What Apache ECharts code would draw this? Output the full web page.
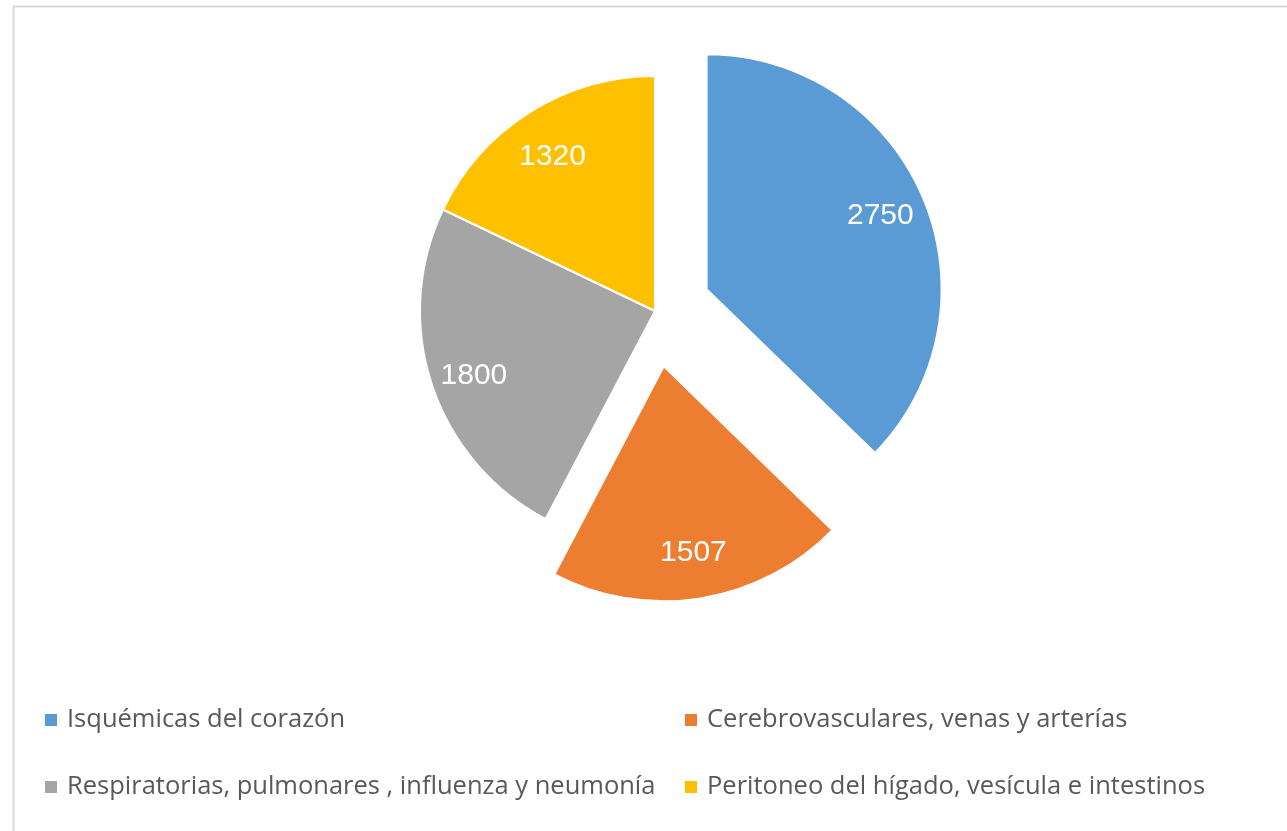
<!DOCTYPE html>
<html>
<head>
<meta charset="utf-8">
<script src="https://cdn.jsdelivr.net/npm/echarts@6/dist/echarts.min.js"></script>
<style>
html,body{margin:0;padding:0;background:#fff;}
#chart{width:1287px;height:831px;}
</style>
</head>
<body>
<div id="chart"></div>
<script>
const categories = [
  'Isquémicas del corazón',
  'Cerebrovasculares, venas y arterías',
  'Respiratorias, pulmonares , influenza y neumonía',
  'Peritoneo del hígado, vesícula e intestinos'
];
const values = [2750, 1507, 1800, 1320];
const colors = ['#5B9BD5', '#ED7D31', '#A5A5A5', '#FFC000'];
const exploded = [true, true, false, false];

const chart = echarts.init(document.getElementById('chart'), null, {renderer: 'canvas'});

const CENTER = [655, 311];
const R = 235;
const OFFSET = 56;

const mainData = categories.map((n, i) => ({
  name: n, value: values[i], selected: exploded[i],
  itemStyle: {color: colors[i]}
}));
const labelData = categories.map((n, i) => ({
  name: n, value: values[i], selected: exploded[i]
}));

const legendText = {fontFamily: '"Open Sans", sans-serif', fontSize: 25.5, color: '#595959', lineHeight: 28, padding: [0, 0, 0, 5]};

chart.setOption({
  animation: false,
  backgroundColor: '#fff',
  color: colors,
  graphic: [{
    type: 'rect', silent: true, z: -1,
    shape: {x: 13.5, y: 6.5, width: 1300, height: 840},
    style: {fill: 'none', stroke: '#d9d9d9', lineWidth: 2}
  }],
  legend: [
    {
      data: [categories[0], categories[2]],
      orient: 'vertical', left: 40, top: 701,
      icon: 'rect', itemWidth: 12, itemHeight: 12, itemGap: 39,
      itemStyle: {borderWidth: 0},
      textStyle: legendText, selectedMode: false
    },
    {
      data: [categories[1], categories[3]],
      orient: 'vertical', left: 680, top: 701,
      icon: 'rect', itemWidth: 12, itemHeight: 12, itemGap: 39,
      itemStyle: {borderWidth: 0},
      textStyle: legendText, selectedMode: false
    }
  ],
  series: [
    {
      type: 'pie',
      center: CENTER,
      radius: [0, R],
      startAngle: 90,
      clockwise: true,
      selectedMode: 'multiple',
      selectedOffset: OFFSET,
      avoidLabelOverlap: false,
      label: {show: false},
      labelLine: {show: false},
      itemStyle: {borderColor: '#fff', borderWidth: 2},
      emphasis: {disabled: true},
      select: {itemStyle: {borderColor: '#fff', borderWidth: 2}},
      data: mainData
    },
    {
      type: 'pie',
      center: CENTER,
      radius: [R * 0.58, R],
      startAngle: 90,
      clockwise: true,
      selectedMode: 'multiple',
      selectedOffset: OFFSET,
      silent: true,
      avoidLabelOverlap: false,
      itemStyle: {color: 'rgba(0,0,0,0)', borderWidth: 0},
      emphasis: {disabled: true},
      select: {itemStyle: {color: 'rgba(0,0,0,0)', borderWidth: 0}},
      label: {
        show: true, position: 'inside',
        formatter: '{c}',
        offset: [-2, 5],
        color: '#fff', fontSize: 30,
        fontFamily: '"Liberation Sans", Arial, sans-serif'
      },
      labelLine: {show: false},
      data: labelData
    }
  ]
});
</script>
</body>
</html>
